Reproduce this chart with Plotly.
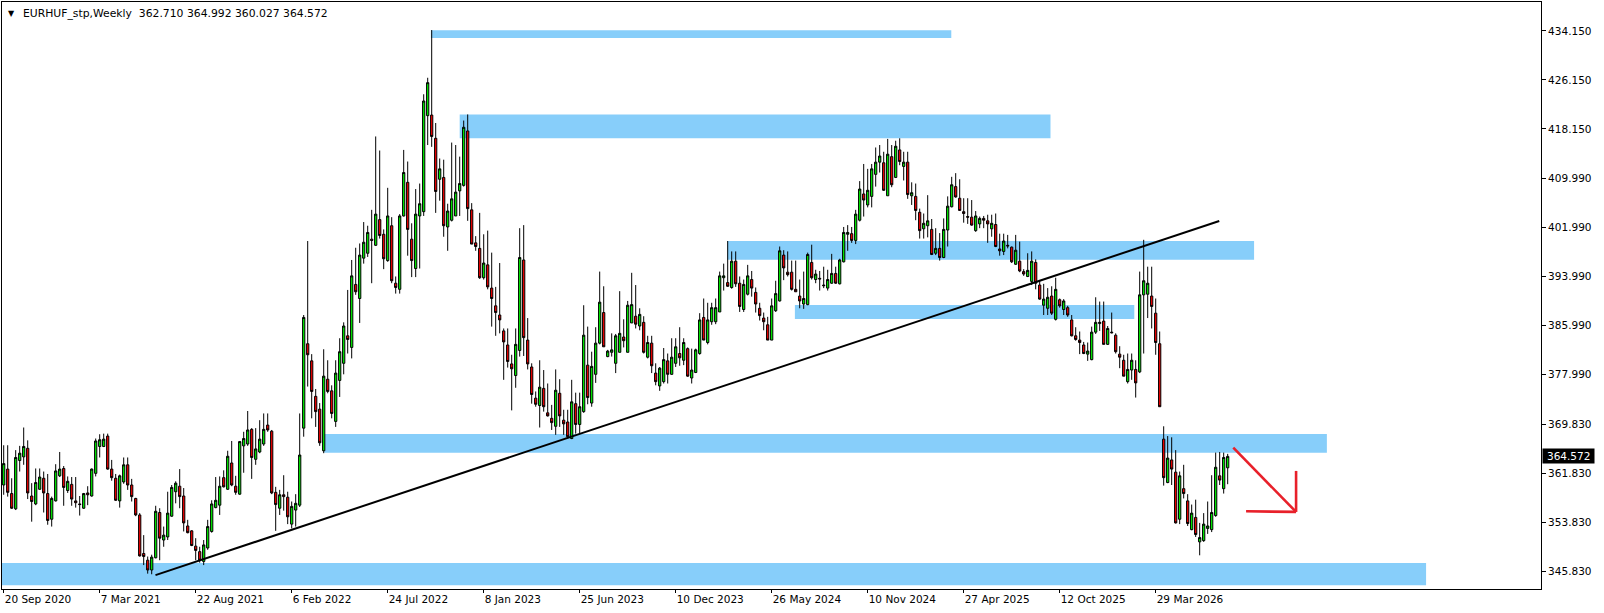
import plotly.graph_objects as go

# ---- data (weekly EURHUF candles) ----
opens = [359.9,362.5,358.5,356.0,363.9,364.5,365.9,358.1,356.8,359.2,361.0,358.5,354.3,357.3,361.4,362.6,359.0,360.0,357.3,356.8,
356.1,358.6,358.1,361.8,366.2,366.2,367.9,362.5,361.0,357.3,360.4,363.2,359.9,357.7,355.0,348.7,347.6,346.0,348.0,355.4,
350.9,351.4,354.8,358.8,359.7,358.1,353.2,352.4,349.9,349.0,347.4,349.6,352.3,356.2,356.6,361.1,359.2,363.5,359.7,358.4,
366.3,366.6,369.0,364.1,365.3,366.6,369.7,368.7,358.7,356.1,358.3,357.9,353.5,355.8,356.6,369.2,383.0,380.2,374.4,372.3,
365.5,377.2,375.3,370.3,377.0,379.8,384.3,382.4,392.7,390.4,397.0,397.8,400.1,399.1,403.3,400.9,396.6,402.3,392.9,391.9,
403.9,409.4,400.1,395.3,403.9,404.6,420.3,420.4,416.6,409.9,410.2,402.1,403.2,403.9,408.0,408.9,417.8,404.9,399.5,398.6,
393.8,395.9,392.1,389.2,387.7,385.1,382.8,379.7,377.8,381.9,396.7,383.6,379.2,374.1,372.9,375.7,371.7,370.8,369.5,374.9,
370.5,370.2,367.5,373.2,369.8,371.9,379.5,373.3,378.0,383.1,388.1,380.9,381.6,379.8,381.6,384.1,381.6,386.4,387.5,385.9,
386.5,380.8,383.1,378.2,376.1,376.8,380.2,378.0,379.8,381.4,380.3,382.2,377.4,378.3,381.4,387.3,383.2,386.6,386.6,388.2,
393.8,393.0,392.2,396.5,392.9,388.6,391.1,393.5,391.4,388.8,387.2,386.1,383.6,388.4,390.0,397.5,394.7,394.7,391.9,390.8,
389.5,389.4,396.3,393.5,393.7,392.6,392.1,392.9,394.5,392.8,396.4,400.9,401.0,399.9,403.2,407.5,405.7,407.1,410.7,412.7,
412.6,407.2,413.6,410.2,414.7,412.0,412.7,407.2,407.1,404.5,401.8,402.3,401.7,397.8,398.6,397.1,401.6,405.4,408.7,406.8,
404.6,403.8,403.7,401.5,402.6,403.5,403.1,401.8,402.5,398.5,398.1,399.1,398.8,396.0,396.5,394.8,394.0,393.2,396.3,392.6,
389.3,388.8,390.8,387.0,390.2,388.6,388.9,386.9,384.3,383.6,382.8,381.3,380.4,384.9,386.3,386.7,382.9,384.9,384.4,381.3,
380.3,376.8,378.7,378.8,378.4,391.0,391.1,390.8,388.0,383.0,367.4,360.3,364.0,362.0,354.3,359.3,357.3,352.6,354.6,350.6,
350.8,352.8,352.6,354.9,361.4,359.3,362.71]
highs = [366.4,366.4,361.0,365.6,366.3,369.3,367.2,360.2,362.6,362.6,362.1,361.7,358.0,363.3,365.3,363.0,361.3,361.2,361.2,358.1,
358.6,359.7,362.6,367.5,368.2,368.3,368.3,364.0,361.7,361.6,364.4,364.4,360.9,357.8,355.3,351.7,348.2,348.5,356.5,356.1,
353.1,358.8,359.9,360.5,362.5,359.4,354.2,352.5,351.2,349.8,350.9,354.2,357.4,361.2,361.3,362.3,365.5,367.1,361.4,367.1,
368.6,372.0,369.2,369.2,370.5,371.6,371.6,368.9,359.6,359.1,361.5,358.8,357.2,358.4,371.6,387.7,399.8,381.3,375.6,373.3,
382.1,380.3,376.2,380.3,383.9,386.5,391.8,396.7,398.7,399.4,402.9,402.3,404.9,416.9,414.6,401.7,408.5,403.7,394.0,404.2,
414.7,412.8,402.7,408.3,409.2,423.8,426.5,434.3,419.1,413.3,413.1,405.9,415.9,415.5,413.6,419.5,420.5,406.0,400.6,404.4,
400.9,401.5,397.9,392.3,396.2,385.5,385.5,381.2,385.5,401.9,402.4,387.2,379.8,375.2,380.3,378.7,376.5,373.0,378.8,377.2,
372.2,372.2,377.1,375.0,375.0,389.3,385.8,381.7,385.7,394.8,392.4,382.0,384.7,384.6,391.6,387.0,390.0,394.6,392.6,388.8,
387.5,384.3,384.3,379.8,379.2,382.3,381.4,383.9,383.9,385.7,383.9,382.4,382.2,382.2,388.0,390.4,389.7,389.7,390.4,394.8,
396.1,399.8,398.1,398.1,394.0,393.5,395.9,394.9,392.2,389.7,388.1,387.4,390.4,393.3,398.9,398.3,398.1,396.6,396.6,393.5,
394.8,397.9,399.2,395.1,394.9,395.6,395.1,397.7,395.6,396.9,402.1,402.4,402.1,404.9,409.6,412.4,411.6,412.4,415.1,415.5,
414.4,416.5,415.5,416.2,416.6,414.4,414.4,409.4,409.2,405.1,404.3,407.3,403.4,401.9,401.1,403.5,407.1,410.3,410.9,409.9,
406.8,406.8,406.5,404.7,403.8,403.9,404.1,404.1,404.3,401.0,401.0,400.8,398.9,400.8,399.7,395.2,397.8,398.1,396.8,393.3,
392.8,392.1,392.4,393.8,390.4,390.3,389.2,387.7,385.7,385.0,383.3,383.2,385.8,390.6,389.9,389.9,385.9,388.1,384.7,382.6,
381.2,381.4,381.4,380.3,394.8,400.0,395.6,395.6,390.4,385.0,369.5,367.9,367.7,365.6,362.1,363.2,358.4,356.7,357.5,353.7,
355.3,357.2,361.5,365.2,365.3,365.2,364.992]
lows = [358.3,358.0,356.0,355.8,362.1,363.2,357.6,353.9,356.6,359.1,355.4,353.4,353.1,357.2,361.2,356.5,358.6,356.5,356.2,354.9,
356.0,356.6,358.0,361.3,364.4,366.1,362.4,360.6,357.3,356.2,360.1,359.1,357.2,354.8,348.2,346.8,345.4,345.3,347.9,347.6,
349.8,350.9,354.7,356.9,356.1,352.3,352.0,349.9,347.6,347.2,346.8,349.3,352.1,356.1,355.0,359.5,359.1,359.7,358.3,358.3,
361.9,366.3,360.9,363.2,365.1,366.3,368.6,358.4,352.4,355.0,355.7,353.5,352.8,353.1,356.3,367.8,376.0,370.8,369.4,366.3,
365.1,374.9,370.8,369.4,374.3,378.0,381.4,380.6,391.0,386.4,396.1,397.2,392.9,399.0,400.2,395.2,396.4,392.9,391.2,391.2,
403.8,397.4,393.9,393.9,395.3,403.9,415.5,415.2,404.4,406.4,400.5,398.2,403.0,403.9,403.9,408.7,403.1,399.3,398.2,393.6,
393.5,391.9,385.8,384.3,384.7,377.1,379.1,372.1,375.8,380.9,381.0,378.8,373.2,372.7,369.3,371.9,371.1,368.9,368.1,369.4,
368.1,367.5,367.4,368.3,368.3,371.7,373.1,372.7,376.6,382.9,382.5,380.8,380.9,378.2,381.6,382.4,381.6,386.4,385.5,385.2,
381.4,380.6,378.2,376.2,375.3,376.5,376.5,377.9,379.2,379.4,379.5,377.6,376.5,378.2,381.2,383.6,382.9,386.1,386.2,388.2,
391.7,392.3,392.0,392.3,388.2,388.2,390.9,390.7,388.1,386.8,385.2,383.6,383.6,388.2,389.9,393.4,394.0,391.7,391.5,388.8,
388.7,389.3,393.5,392.9,391.7,392.1,391.7,392.8,392.8,392.7,396.3,398.2,399.5,399.3,403.0,403.8,405.3,405.3,408.7,411.0,
408.0,407.2,408.6,410.1,412.2,409.7,406.7,405.7,403.2,400.2,400.2,400.4,397.5,397.5,396.6,397.0,398.9,405.3,406.9,404.8,
402.8,402.6,402.3,401.3,401.9,401.9,399.5,400.5,398.8,397.4,397.5,398.6,396.2,395.9,394.7,394.1,393.9,392.6,391.9,390.2,
387.7,387.7,387.7,386.8,388.9,387.7,387.4,384.2,383.5,381.3,381.3,380.2,380.3,384.6,385.1,382.9,382.8,384.7,381.4,379.0,
377.7,376.5,377.1,374.2,378.2,381.4,387.2,385.5,381.2,372.7,359.8,360.2,359.9,353.6,353.5,357.7,353.2,352.5,351.4,348.4,
350.6,351.9,352.2,354.7,359.9,358.5,360.027]
closes = [363.4,358.7,356.1,364.4,365.1,366.2,358.6,357.2,360.3,361.2,358.6,354.1,357.7,362.2,362.5,359.5,360.5,357.6,357.0,356.7,
358.5,358.3,362.5,367.1,367.3,367.4,362.5,361.1,357.4,361.4,363.2,359.9,358.0,355.0,348.3,348.2,346.0,348.1,355.6,351.2,
351.7,355.3,359.5,360.2,358.0,353.7,352.1,350.0,349.2,347.6,350.1,353.1,356.8,357.4,359.7,359.6,364.6,359.9,358.7,367.0,
367.5,368.9,364.4,365.8,367.4,369.0,368.9,358.6,356.7,358.3,358.0,354.7,356.4,356.9,364.8,387.3,381.2,375.2,371.9,366.8,
377.7,375.2,371.6,378.2,381.7,385.9,383.7,394.1,391.5,397.5,399.6,401.2,399.9,404.2,400.7,396.9,403.9,393.3,392.2,403.9,
411.0,401.7,396.6,404.2,405.9,422.7,425.7,416.9,407.9,411.6,402.3,404.7,406.7,407.8,409.2,418.4,405.1,399.3,398.9,393.8,
396.2,392.3,390.4,388.1,386.9,383.3,380.1,378.9,382.9,397.1,384.0,379.7,374.7,373.1,375.9,372.7,371.2,370.1,375.4,371.2,
369.9,367.8,373.5,369.8,372.7,384.4,374.2,379.3,383.1,389.8,382.5,381.8,382.0,384.3,384.7,383.5,389.3,389.4,386.2,387.8,
381.6,383.2,379.4,376.8,379.0,380.4,378.0,380.8,382.5,380.7,383.2,377.7,378.7,382.0,386.9,383.6,386.9,388.9,388.9,394.1,
394.1,392.4,396.5,392.8,389.1,392.7,394.1,392.1,389.5,387.6,386.6,383.6,389.2,391.2,398.2,395.4,394.3,391.9,391.5,390.0,
390.4,397.6,393.8,394.4,393.6,392.5,393.5,394.5,392.9,396.7,401.2,401.2,399.9,404.2,408.3,406.5,408.1,411.6,412.7,413.7,
408.1,414.0,409.0,415.3,412.8,412.7,407.4,407.7,404.8,401.5,402.7,403.1,397.6,398.6,397.1,401.7,405.5,409.0,407.0,404.8,
404.3,403.7,402.4,403.9,403.5,403.2,402.6,402.7,398.9,398.2,399.8,399.0,396.4,398.3,394.9,394.4,395.0,396.5,392.9,390.3,
390.3,390.6,388.0,391.9,389.2,390.0,387.7,384.3,383.7,383.2,381.4,381.8,384.9,386.5,386.5,382.9,385.5,384.8,381.7,380.8,
377.7,378.8,380.3,376.6,391.0,393.3,392.9,389.1,383.2,372.7,361.1,364.3,362.5,353.7,361.4,358.5,353.6,355.3,351.8,351.3,
353.5,353.2,355.4,362.8,360.7,364.4,364.572]

date_labels = ["20 Sep 2020", "7 Mar 2021", "22 Aug 2021", "6 Feb 2022", "24 Jul 2022", "8 Jan 2023",
               "25 Jun 2023", "10 Dec 2023", "26 May 2024", "10 Nov 2024", "27 Apr 2025", "12 Oct 2025",
               "29 Mar 2026"]
label_bars = [0, 24, 48, 72, 96, 120, 144, 168, 192, 216, 240, 264, 288]
price_ticks = [345.83, 353.83, 361.83, 369.83, 377.99, 385.99, 393.99, 401.99, 409.99, 418.15, 426.15, 434.15]

# zones: (bar_start, bar_end, price_low, price_high)
zones = [(106.8, 236.9, 433.0, 434.25),
         (114.0, 261.7, 416.6, 420.5),
         (180.9, 312.6, 396.75, 399.8),
         (197.8, 282.65, 387.05, 389.34),
         (80.15, 330.8, 365.18, 368.24),
         (-5.0, 355.6, 343.5, 347.14)]
trend = [(37.95, 345.16), (303.9, 403.08)]
arrow = [(307.4, 366.0), (323.1, 355.5), (323.1, 362.2), (310.6, 355.6)]
title_text = "EURHUF_stp,Weekly  362.710 364.992 360.027 364.572"
last_price = 364.572

bars = list(range(len(closes)))
FONT = "DejaVu Sans"

fig = go.Figure()
fig.add_trace(go.Candlestick(
    x=bars, open=opens, high=highs, low=lows, close=closes,
    increasing=dict(line=dict(color="black", width=1), fillcolor="#00EE00"),
    decreasing=dict(line=dict(color="black", width=1), fillcolor="#EE0000"),
    whiskerwidth=0, hoverinfo="skip", showlegend=False))

shapes = []
for x0, x1, y0, y1 in zones:
    shapes.append(dict(type="rect", xref="x", yref="y", x0=x0, x1=x1, y0=y0, y1=y1,
                       fillcolor="#87CEFA", line=dict(width=0), layer="below"))
shapes.append(dict(type="line", xref="x", yref="y", x0=trend[0][0], y0=trend[0][1],
                   x1=trend[1][0], y1=trend[1][1], line=dict(color="black", width=2)))
shapes.append(dict(type="line", xref="x", yref="y", x0=arrow[0][0], y0=arrow[0][1],
                   x1=arrow[1][0], y1=arrow[1][1], line=dict(color="#E8202A", width=2.6)))
shapes.append(dict(type="line", xref="x", yref="y", x0=arrow[2][0], y0=arrow[2][1],
                   x1=arrow[1][0], y1=arrow[1][1], line=dict(color="#E8202A", width=2.6)))
shapes.append(dict(type="line", xref="x", yref="y", x0=arrow[3][0], y0=arrow[3][1],
                   x1=arrow[1][0], y1=arrow[1][1], line=dict(color="#E8202A", width=2.6)))

annotations = [
    dict(text="▼", xref="paper", yref="paper", x=0, y=1, xanchor="left", yanchor="middle",
         xshift=4, yshift=-11, showarrow=False, font=dict(family=FONT, size=8, color="black")),
    dict(text=title_text, xref="paper", yref="paper", x=0, y=1, xanchor="left", yanchor="middle",
         xshift=19, yshift=-11, showarrow=False, font=dict(family=FONT, size=10.8, color="black")),
    dict(text="%.3f" % last_price, xref="paper", yref="y", x=1, y=last_price, xanchor="left",
         yanchor="middle", xshift=1, showarrow=False, bgcolor="black", width=50, height=13,
         borderpad=0.7, align="center", font=dict(family=FONT, size=10.5, color="white")),
]

fig.update_layout(
    width=1604, height=613,
    margin=dict(l=2, r=63, t=2, b=24),
    paper_bgcolor="white", plot_bgcolor="white",
    boxgap=0.2,
    shapes=shapes, annotations=annotations,
    xaxis=dict(range=[-0.425, 384.33], showgrid=False, zeroline=False,
               rangeslider=dict(visible=False),
               tickmode="array", tickvals=label_bars, ticktext=date_labels,
               ticklabelposition="outside right", ticks="outside", ticklen=3,
               tickcolor="black", showline=True, mirror=True, linecolor="black", linewidth=1,
               tickfont=dict(family=FONT, size=10.5, color="black")),
    yaxis=dict(range=[342.89, 438.89], side="right", showgrid=False, zeroline=False,
               tickmode="array", tickvals=price_ticks, ticktext=["%.3f" % v for v in price_ticks],
               ticks="outside", ticklen=4, tickcolor="black",
               showline=True, mirror=True, linecolor="black", linewidth=1,
               tickfont=dict(family=FONT, size=10.5, color="black")),
)

fig.write_html("out.html", config={"displayModeBar": False},
               post_script="document.body.style.margin='0';document.body.style.overflow='hidden';")
